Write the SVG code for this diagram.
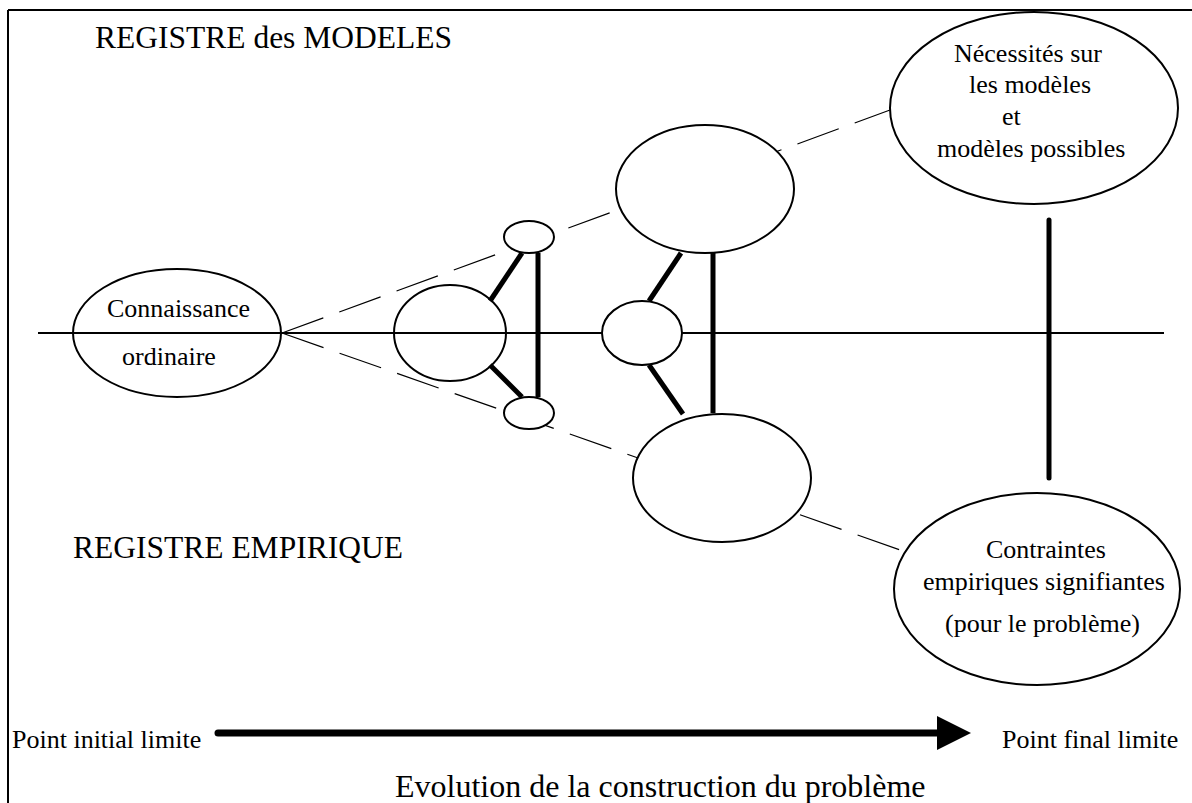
<svg xmlns="http://www.w3.org/2000/svg" width="1192" height="803" viewBox="0 0 1192 803">
<style>
  .t { font-family: "Liberation Serif", "Times New Roman", "DejaVu Serif", serif; font-size: 26px; fill: #000; }
  .big { font-size: 31.5px; }
  .evo { font-size: 32px; }
  .node { fill: #fff; stroke: #000; stroke-width: 2; }
  .open { fill: none; stroke: #000; stroke-width: 2; }
  .thin { stroke: #000; stroke-width: 2; fill: none; }
  .thick { stroke: #000; stroke-width: 5; fill: none; }
  .dash { stroke: #000; stroke-width: 1.2; fill: none; stroke-dasharray: 44 17; }
</style>
<rect x="0" y="0" width="1192" height="803" fill="#fff"/>
<g id="frame">
  <line class="thin" x1="8" y1="10" x2="1192" y2="10"/>
  <line class="thin" x1="8" y1="10" x2="8" y2="803"/>
</g>
<g id="connectors">
  <line class="thin" x1="38" y1="333" x2="1164" y2="333"/>
  <line class="dash" x1="282" y1="333" x2="890" y2="110"/>
  <line class="dash" x1="282" y1="333" x2="906" y2="552"/>
  <line class="thick" x1="490" y1="301" x2="522" y2="253"/>
  <line class="thick" x1="490" y1="365" x2="522" y2="397"/>
  <line class="thick" x1="538" y1="253" x2="538" y2="397"/>
  <line class="thick" x1="649" y1="301" x2="681" y2="253"/>
  <line class="thick" x1="649" y1="365" x2="683" y2="414"/>
  <line class="thick" x1="713" y1="253" x2="713" y2="413"/>
  <line class="thick" x1="1049" y1="220" x2="1049" y2="478" stroke-linecap="round"/>
</g>
<g id="n-connaissance">
  <ellipse class="open" cx="177" cy="333" rx="104" ry="64"/>
  <text class="t" x="107" y="317">Connaissance</text>
  <text class="t" x="122" y="365">ordinaire</text>
</g>
<g id="n-left-mid"><ellipse class="open" cx="450" cy="333" rx="56" ry="48"/></g>
<g id="n-left-top"><ellipse class="node" cx="529" cy="237" rx="25" ry="16"/></g>
<g id="n-left-bottom"><ellipse class="node" cx="529" cy="413" rx="25" ry="16"/></g>
<g id="n-mid-small"><ellipse class="node" cx="642" cy="333" rx="40" ry="32"/></g>
<g id="n-mid-top"><ellipse class="node" cx="705" cy="189" rx="89" ry="64"/></g>
<g id="n-mid-bottom"><ellipse class="node" cx="722" cy="478" rx="89" ry="64"/></g>
<g id="n-necessites">
  <ellipse class="node" cx="1034" cy="108" rx="144" ry="96"/>
  <text class="t" x="954" y="62">Nécessités sur</text>
  <text class="t" x="969" y="93">les modèles</text>
  <text class="t" x="1002" y="125">et</text>
  <text class="t" x="937" y="157">modèles possibles</text>
</g>
<g id="n-contraintes">
  <ellipse class="node" cx="1037" cy="589" rx="143" ry="96"/>
  <text class="t" x="986" y="558">Contraintes</text>
  <text class="t" x="923" y="590">empiriques signifiantes</text>
  <text class="t" x="945" y="632">(pour le problème)</text>
</g>
<g id="labels">
  <text class="t big" x="95" y="48">REGISTRE des MODELES</text>
  <text class="t big" x="73" y="558">REGISTRE EMPIRIQUE</text>
  <text class="t" x="12" y="748">Point initial limite</text>
  <text class="t" x="1002" y="748">Point final limite</text>
  <text class="t evo" x="395" y="797">Evolution de la construction du problème</text>
</g>
<g id="arrow">
  <line x1="218" y1="733" x2="940" y2="733" stroke="#000" stroke-width="7" stroke-linecap="round"/>
  <polygon points="937,716 971,733 937,750" fill="#000"/>
</g>
</svg>
